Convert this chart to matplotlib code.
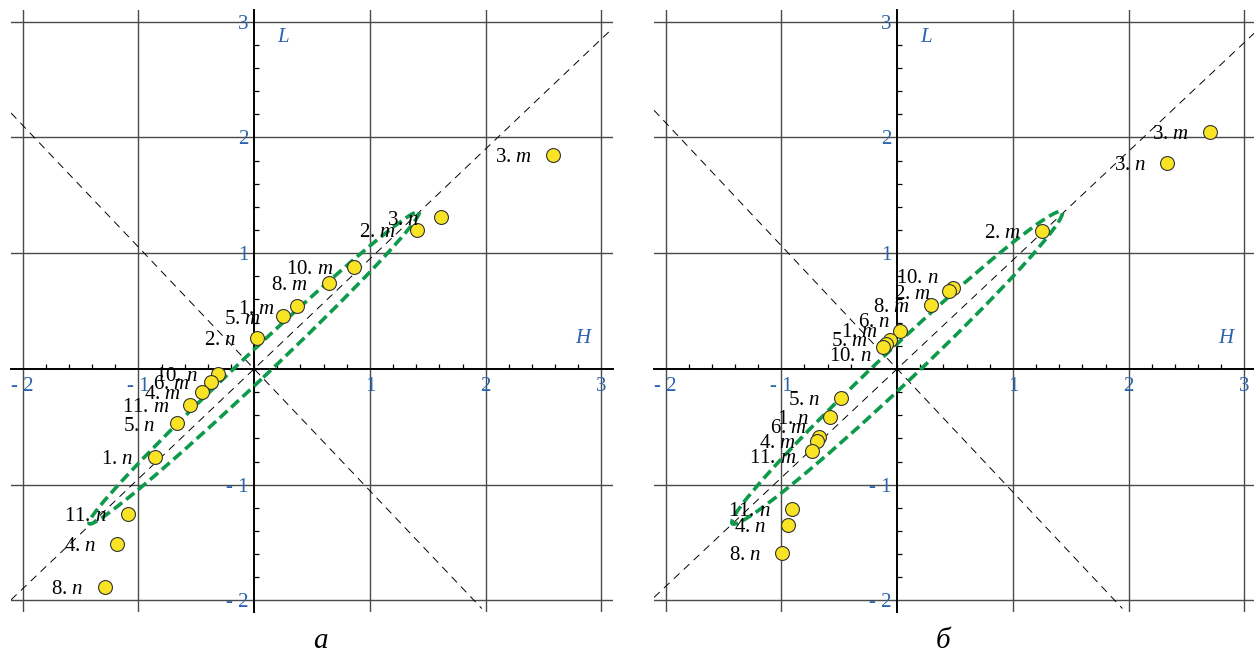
import matplotlib
matplotlib.use("Agg")
import matplotlib.pyplot as plt
from matplotlib.patches import Ellipse
from matplotlib.ticker import FixedLocator, MultipleLocator

plt.rcParams['font.family'] = ['Liberation Serif', 'DejaVu Serif']
plt.rcParams['mathtext.fontset'] = 'custom'
plt.rcParams['mathtext.rm'] = 'Liberation Serif'
plt.rcParams['mathtext.it'] = 'Liberation Serif:italic'

# panel а : point number, sub-index, H, L
num_a = [3, 3, 2, 10, 8, 1, 5, 2, 10, 6, 4, 11, 5, 1, 11, 4, 8]
sub_a = ['m', 'n', 'm', 'm', 'm', 'm', 'm', 'n', 'n', 'm', 'm', 'm', 'n', 'n', 'n', 'n', 'n']
h_a = [2.58, 1.61, 1.41, 0.865, 0.65, 0.37, 0.25, 0.026, -0.31, -0.37, -0.45, -0.55, -0.67, -0.86, -1.09, -1.185, -1.29]
l_a = [1.85, 1.31, 1.20, 0.88, 0.745, 0.545, 0.46, 0.27, -0.045, -0.11, -0.20, -0.31, -0.47, -0.76, -1.25, -1.51, -1.88]

# panel б
num_b = [3, 3, 2, 10, 2, 8, 6, 1, 5, 10, 5, 1, 6, 4, 11, 11, 4, 8]
sub_b = ['m', 'n', 'm', 'n', 'm', 'm', 'n', 'm', 'm', 'n', 'n', 'n', 'm', 'm', 'm', 'n', 'n', 'n']
h_b = [2.70, 2.33, 1.25, 0.48, 0.45, 0.29, 0.026, -0.06, -0.095, -0.12, -0.485, -0.58, -0.675, -0.69, -0.735, -0.91, -0.945, -0.995]
l_b = [2.05, 1.78, 1.19, 0.70, 0.675, 0.555, 0.33, 0.25, 0.215, 0.19, -0.25, -0.415, -0.59, -0.62, -0.71, -1.21, -1.35, -1.59]

tick_vals = [-2, -1, 1, 2, 3]
tick_text = ['- 2', '- 1', '1', '2', '3']

# label offsets (points) where the default does not fit
default_off = (-15, -2)
off_a = {5: (-16, -3), 6: (-16, -3)}
off_b = {3: (-10, 7), 4: (-13, -3), 6: (-7, 6), 7: (-9, 5), 8: (-13, 1.5),
         9: (-8, -7), 12: (-8.5, 6), 14: (-11, -5)}

blue = '#2b63ae'
green = '#0d9a4a'


def setup(ax, xlim):
    ax.set_xlim(*xlim)
    ax.set_ylim(-2.1, 3.1)
    for s in ['top', 'right']:
        ax.spines[s].set_visible(False)
    for s in ['left', 'bottom']:
        ax.spines[s].set_position(('data', 0))
        ax.spines[s].set_linewidth(1.4)
    for axis in [ax.xaxis, ax.yaxis]:
        axis.set_major_locator(FixedLocator(tick_vals))
        axis.set_minor_locator(MultipleLocator(0.2))
    ax.set_xticklabels(tick_text, fontsize=15)
    ax.set_yticklabels(tick_text, fontsize=15)
    ax.tick_params(which='both', direction='in', labelcolor=blue)
    ax.tick_params(which='major', length=0)
    ax.tick_params(axis='x', which='major', pad=6)
    ax.tick_params(axis='y', which='major', pad=4)
    ax.tick_params(which='minor', length=3.5, width=0.9)
    ax.grid(True, which='major', color='#4a4a4a', lw=1.0)
    ax.set_axisbelow(True)


def panel(ax, xlim, nums, subs, h, l, offs, slope, width):
    setup(ax, xlim)
    x0, x1 = xlim
    ax.plot([x0, x1], [slope * x0, slope * x1], ls=(0, (8, 6)), color='black', lw=0.7)
    xe = 2.07 * slope
    ax.plot([x0, xe], [-x0 / slope, -xe / slope], ls=(0, (8, 6)), color='black', lw=0.7)
    ax.add_patch(Ellipse((0, 0.01), 2 * 1.96, 2 * width, angle=43.4, fill=False,
                         ec=green, lw=2.6, ls=(0, (2.9, 1.4)), zorder=3))
    ax.scatter(h, l, s=100, c='#f8e424', edgecolors='#333333', linewidths=0.8, zorder=4)
    for i, (n, k, x, y) in enumerate(zip(nums, subs, h, l)):
        ax.annotate(f'{n}. ${k}$', (x, y), xytext=offs.get(i, default_off),
                    textcoords='offset points', ha='right', va='center',
                    fontsize=15, zorder=5)
    ax.text(0.25, 2.86, '$L$', color=blue, fontsize=15, ha='center', va='center')
    ax.text(2.85, 0.26, '$H$', color=blue, fontsize=15, ha='center', va='center')


fig = plt.figure(figsize=(12.54, 6.52), dpi=100)
ax1 = fig.add_axes([11 / 1254, 40 / 652, 602 / 1254, 602 / 652])
ax2 = fig.add_axes([654 / 1254, 40 / 652, 602 / 1254, 602 / 652])

panel(ax1, (-2.1, 3.1), num_a, sub_a, h_a, l_a, off_a, 0.95, 0.115)
panel(ax2, (-2.1, 3.1), num_b, sub_b, h_b, l_b, off_b, 0.94, 0.15)

fig.text(320 / 1254, 11 / 652, 'а', fontsize=21, style='italic', ha='center', va='center')
fig.text(943 / 1254, 11 / 652, 'б', fontsize=21, style='italic', ha='center', va='center')

fig.savefig('out.png', dpi=100)
